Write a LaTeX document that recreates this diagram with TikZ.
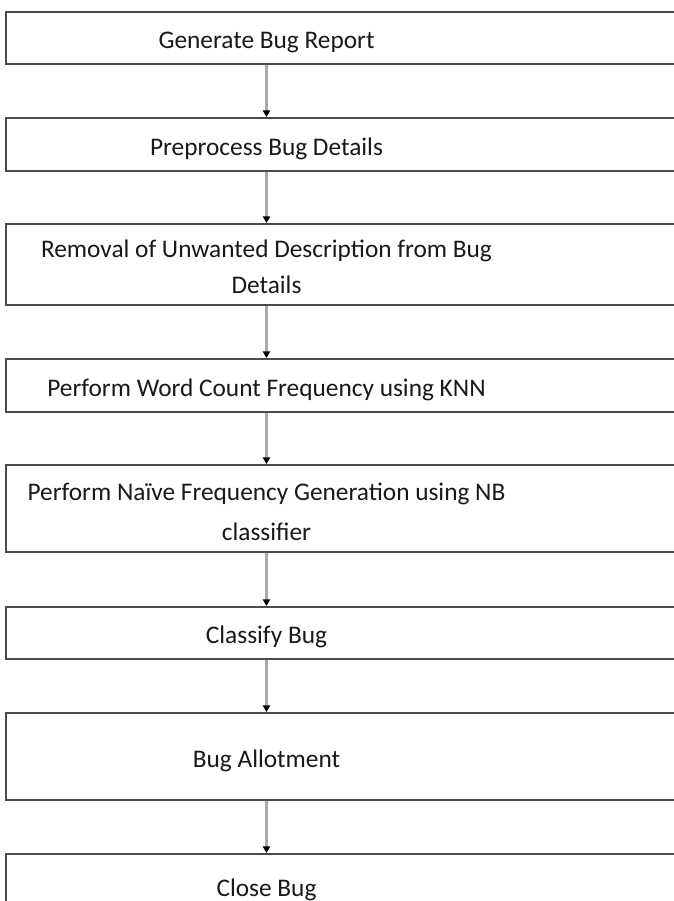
\documentclass[tikz,border=0pt]{standalone}
\usepackage{fontspec}
\setmainfont{Carlito}
\usetikzlibrary{arrows.meta,fit}
\definecolor{boxgray}{RGB}{75,75,75}
\definecolor{linegray}{RGB}{170,170,170}
\definecolor{txtgray}{RGB}{25,25,25}
\begin{document}
\begin{tikzpicture}[x=0.75pt,y=-0.75pt,
  box/.style={draw=boxgray, line width=1.5pt, fill=white, inner sep=0pt},
  lbl/.style={anchor=base, inner sep=0pt, text=txtgray, align=center, font=\fontsize{19}{27}\selectfont},
  conn/.style={draw=linegray, line width=1.6pt, -{Triangle[length=5pt,width=5.5pt,color=black]}}]
\useasboundingbox (0,0) rectangle (674,901);
\clip (0,0) rectangle (674,901);
\fill[white] (0,0) rectangle (674,901);
% boxes
\node[box, fit={(6,12) (700,64)}] (b1) {};
\node[box, fit={(6,118) (700,171)}] (b2) {};
\node[box, fit={(6,224) (700,305)}] (b3) {};
\node[box, fit={(6,359) (700,412)}] (b4) {};
\node[box, fit={(6,465) (700,552)}] (b5) {};
\node[box, fit={(6,607) (700,659)}] (b6) {};
\node[box, fit={(6,713) (700,800)}] (b7) {};
\node[box, fit={(6,854) (700,930)}] (b8) {};
% labels (anchor base = baseline of the last line)
\node[lbl] (t1) at (266.5,48) {Generate Bug Report};
\node[lbl] (t2) at (266.5,155) {Preprocess Bug Details};
\node[lbl] (t3) at (266.5,293) {Removal of Unwanted Description from Bug\\Details};
\node[lbl] (t4) at (266.5,396) {Perform Word Count Frequency using KNN};
\node[lbl, font=\fontsize{19}{30}\selectfont] (t5) at (266.5,540) {Perform Naïve Frequency Generation using NB\\classifier};
\node[lbl] (t6) at (266.5,643) {Classify Bug};
\node[lbl] (t7) at (266.5,767) {Bug Allotment};
\node[lbl] (t8) at (266.5,896) {Close Bug};
% connectors
\draw[conn] (t1.base |- b1.south) -- (t1.base |- b2.north);
\draw[conn] (t1.base |- b2.south) -- (t1.base |- b3.north);
\draw[conn] (t1.base |- b3.south) -- (t1.base |- b4.north);
\draw[conn] (t1.base |- b4.south) -- (t1.base |- b5.north);
\draw[conn] (t1.base |- b5.south) -- (t1.base |- b6.north);
\draw[conn] (t1.base |- b6.south) -- (t1.base |- b7.north);
\draw[conn] (t1.base |- b7.south) -- (t1.base |- b8.north);
\end{tikzpicture}
\end{document}
